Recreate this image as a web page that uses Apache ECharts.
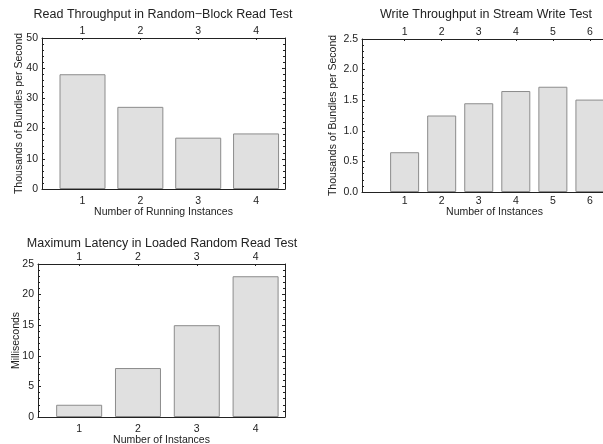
<!DOCTYPE html>
<html>
<head>
<meta charset="utf-8">
<script src="https://cdn.jsdelivr.net/npm/echarts@6/dist/echarts.min.js"></script>
<style>html,body{margin:0;padding:0;background:#fff}#c{width:603px;height:444px}</style>
</head>
<body>
<div id="c"></div>
<script>
// Chart 1: Read Throughput in Random-Block Read Test
const readInstances = [1, 2, 3, 4];
const readThroughput = [38, 27.2, 17, 18.4];
// Chart 2: Write Throughput in Stream Write Test
const writeInstances = [1, 2, 3, 4, 5, 6];
const writeThroughput = [0.65, 1.25, 1.45, 1.65, 1.72, 1.51];
// Chart 3: Maximum Latency in Loaded Random Read Test
const latencyInstances = [1, 2, 3, 4];
const latencyMs = [2, 8, 15, 23];

const titles = [
  'Read Throughput in Random\u2212Block Read Test',
  'Write Throughput in Stream Write Test',
  'Maximum Latency in Loaded Random Read Test'
];

const FONT = 'Liberation Sans, Arial, sans-serif';
const INK = '#222';

function zip(xs, ys) { return xs.map((x, i) => [x, ys[i]]); }

const grids = [
  { left: 42, top: 38, width: 243, height: 151, containLabel: false, outerBoundsMode: 'none' },
  { left: 362, top: 39, width: 265, height: 153, containLabel: false, outerBoundsMode: 'none' },
  { left: 38, top: 264, width: 247, height: 153, containLabel: false, outerBoundsMode: 'none' }
];

function xAxes(gi, min, max, ticks, name, nameGap, labelMargin) {
  const common = {
    type: 'value', gridIndex: gi, min: min, max: max,
    splitLine: { show: false },
    axisLine: { show: true, onZero: false, lineStyle: { color: INK, width: 1 } },
    axisTick: { show: true, inside: true, length: 2, customValues: ticks, lineStyle: { color: INK } },
    axisLabel: { customValues: ticks, color: INK, fontSize: 10.5, fontFamily: FONT }
  };
  return [
    Object.assign({}, common, { position: 'bottom', name: name, nameLocation: 'middle', nameGap: nameGap,
      nameMoveOverlap: false,
      nameTextStyle: { color: INK, fontSize: 10.5, fontFamily: FONT },
      axisLabel: Object.assign({}, common.axisLabel, { margin: labelMargin }) }),
    Object.assign({}, common, { position: 'top',
      axisLabel: Object.assign({}, common.axisLabel, { margin: 1 }) })
  ];
}

function yAxes(gi, max, interval, name, nameGap, digits) {
  const common = {
    type: 'value', gridIndex: gi, min: 0, max: max, interval: interval,
    splitLine: { show: false },
    axisLine: { show: true, onZero: false, lineStyle: { color: INK, width: 1 } },
    axisTick: { show: true, inside: true, length: 3, lineStyle: { color: INK } },
    minorTick: { show: true, splitNumber: 5, length: 2, lineStyle: { color: INK } },
    minorSplitLine: { show: false }
  };
  return [
    Object.assign({}, common, { position: 'left', name: name, nameLocation: 'middle', nameGap: nameGap,
      nameMoveOverlap: false,
      nameTextStyle: { color: INK, fontSize: 10.5, fontFamily: FONT },
      axisLabel: { color: INK, fontSize: 10.5, fontFamily: FONT, margin: 4,
        formatter: v => v.toFixed(digits) } }),
    Object.assign({}, common, { position: 'right', axisLabel: { show: false } })
  ];
}

const xAxis = [].concat(
  xAxes(0, 0.3, 4.5, readInstances, 'Number of Running Instances', 18, 7),
  xAxes(1, -0.15, 7.0, writeInstances, 'Number of Instances', 15, 4),
  xAxes(2, 0.3, 4.5, latencyInstances, 'Number of Instances', 18, 7)
);
const yAxis = [].concat(
  yAxes(0, 50, 10, 'Thousands of Bundles per Second', 17, 0),
  yAxes(1, 2.5, 0.5, 'Thousands of Bundles per Second', 23, 1),
  yAxes(2, 25, 5, 'Milliseconds', 16, 0)
);

const barStyle = { color: '#e0e0e0', borderColor: '#8c8c8c', borderWidth: 1 };

const titleStyle = { fontSize: 12.5, fontWeight: 'normal', color: INK, fontFamily: FONT };

const option = {
  animation: false,
  title: [
    { text: titles[0], left: 163, top: 8, textAlign: 'center', padding: 0, textStyle: titleStyle },
    { text: titles[1], left: 486, top: 8, textAlign: 'center', padding: 0, textStyle: titleStyle },
    { text: titles[2], left: 162, top: 237, textAlign: 'center', padding: 0, textStyle: titleStyle }
  ],
  grid: grids,
  xAxis: xAxis,
  yAxis: yAxis,
  series: [
    { type: 'bar', xAxisIndex: 0, yAxisIndex: 0, barWidth: 46, data: zip(readInstances, readThroughput), itemStyle: barStyle },
    { type: 'bar', xAxisIndex: 2, yAxisIndex: 2, barWidth: 29, data: zip(writeInstances, writeThroughput), itemStyle: barStyle },
    { type: 'bar', xAxisIndex: 4, yAxisIndex: 4, barWidth: 46, data: zip(latencyInstances, latencyMs), itemStyle: barStyle }
  ]
};

const chart = echarts.init(document.getElementById('c'), null, { renderer: 'canvas' });
chart.setOption(option);
</script>
</body>
</html>
